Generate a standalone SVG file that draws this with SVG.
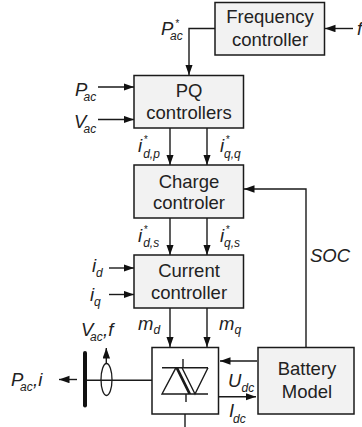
<svg xmlns="http://www.w3.org/2000/svg" width="362" height="427" viewBox="0 0 362 427">
<style>
.b{fill:#f2f2f2;stroke:#1a1a1a;stroke-width:1.5}
.l{fill:none;stroke:#1a1a1a;stroke-width:1.4}
.t{font:18.5px "Liberation Sans",Arial,sans-serif;fill:#222;text-anchor:middle}
.v{font:italic 18.5px "Liberation Sans",Arial,sans-serif;fill:#222}
.s{font-size:12px}
.u{font-size:10px}
.k{letter-spacing:-3.500px}
.n{letter-spacing:-1.500px}
</style>
<defs><marker id="a" markerUnits="userSpaceOnUse" markerWidth="11" markerHeight="8" refX="10.5" refY="3.75" orient="auto"><path d="M0 0L10.500 3.750L0 7.500Z" fill="#111"/></marker></defs>
<g id="connectors">
<path class="l" d="M215 28.500H189V75" marker-end="url(#a)"/>
<path class="l" d="M353 28.500H325" marker-end="url(#a)"/>
<path class="l" d="M98 87H134" marker-end="url(#a)"/>
<path class="l" d="M98 119.500H134" marker-end="url(#a)"/>
<path class="l" d="M170 128V165" marker-end="url(#a)"/>
<path class="l" d="M207 128V165" marker-end="url(#a)"/>
<path class="l" d="M170 218V255" marker-end="url(#a)"/>
<path class="l" d="M207 218V255" marker-end="url(#a)"/>
<path class="l" d="M109 268H134" marker-end="url(#a)"/>
<path class="l" d="M109 294.500H134" marker-end="url(#a)"/>
<path class="l" d="M170 308V347" marker-end="url(#a)"/>
<path class="l" d="M207 308V347" marker-end="url(#a)"/>
<path class="l" d="M306 347V189H244" marker-end="url(#a)"/>
<path class="l" d="M257 361H220" marker-end="url(#a)"/>
<path class="l" d="M219 396.700H256" marker-end="url(#a)"/>
<path class="l" d="M85 380.300H152"/>
<path class="l" d="M185 414V427"/>
<path class="l" d="M77 379.500H59" marker-end="url(#a)"/>
<path class="l" d="M106.300 363V348" marker-end="url(#a)"/>
</g>
<g id="frequency"><rect class="b" x="215" y="2.500" width="109.500" height="52.500"/><text class="t" x="270" y="23">Frequency</text><text class="t" x="270" y="46">controller</text></g>
<g id="pq"><rect class="b" x="134" y="75.500" width="109.500" height="52.500"/><text class="t" x="189" y="97">PQ</text><text class="t" x="189" y="118.500">controllers</text></g>
<g id="charge"><rect class="b" x="134" y="165" width="109.500" height="53"/><text class="t" x="189" y="187.500">Charge</text><text class="t" x="189" y="209">controler</text></g>
<g id="current"><rect class="b" x="134" y="255" width="109.500" height="53"/><text class="t" x="189" y="277">Current</text><text class="t" x="189" y="298.500">controller</text></g>
<g id="converter"><rect x="152" y="347.500" width="66.500" height="66.500" fill="#fff" stroke="#1a1a1a" stroke-width="1.500"/>
<path class="l" d="M162 367.700H208M162 394H208M183 359V367.700M186 394V402M176 367.700L162 394H189L176 367.700M182 367.700L195 394L208 367.700M177.500 367.700L190.500 394"/></g>
<g id="battery"><rect class="b" x="258" y="347.500" width="96" height="66.500"/><text class="t" x="307" y="375">Battery</text><text class="t" x="307" y="398">Model</text></g>
<g id="bus"><path d="M85 353V405.500" stroke="#111" stroke-width="4" stroke-linecap="round"/><ellipse cx="106.500" cy="379.500" rx="5.500" ry="16" fill="none" stroke="#1a1a1a" stroke-width="1.300"/></g>
<g id="labels">
<text class="v" x="161" y="35"><tspan class="k">P</tspan><tspan class="s" x="170" y="40">ac</tspan><tspan class="u" x="175" y="27">*</tspan></text>
<text class="v" x="357" y="35">f</text>
<text class="v" x="75" y="96"><tspan class="k">P</tspan><tspan class="s" x="83.500" y="101">ac</tspan></text>
<text class="v" x="74" y="128"><tspan class="k">V</tspan><tspan class="s" x="83.500" y="133">ac</tspan></text>
<text class="v" x="138" y="152">i<tspan class="s" x="143.200" y="158">d,p</tspan><tspan class="u" x="143.500" y="143">*</tspan></text>
<text class="v" x="220" y="152"><tspan class="n">i</tspan><tspan class="s" x="224" y="158">q,q</tspan><tspan class="u" x="225.500" y="143">*</tspan></text>
<text class="v" x="138" y="242">i<tspan class="s" x="143.200" y="247">d,s</tspan><tspan class="u" x="143.500" y="233">*</tspan></text>
<text class="v" x="220" y="242"><tspan class="n">i</tspan><tspan class="s" x="224" y="247">q,s</tspan><tspan class="u" x="225.500" y="233">*</tspan></text>
<text class="v" x="92" y="272"><tspan class="n">i</tspan><tspan class="s" x="96" y="277">d</tspan></text>
<text class="v" x="90" y="301"><tspan class="n">i</tspan><tspan class="s" x="94" y="306">q</tspan></text>
<text class="v" x="138" y="330">m<tspan class="s" x="153.500" y="334">d</tspan></text>
<text class="v" x="219" y="330">m<tspan class="s" x="234.500" y="334">q</tspan></text>
<text class="v" x="81" y="336"><tspan class="k">V</tspan><tspan class="s" x="90" y="341">ac</tspan><tspan x="103" y="336">,f</tspan></text>
<text class="v" x="11" y="386"><tspan class="k">P</tspan><tspan class="s" x="20" y="391">ac</tspan><tspan x="33" y="386">,i</tspan></text>
<text class="v" x="228" y="387">U<tspan class="s" x="241.500" y="392">dc</tspan></text>
<text class="v" x="229" y="417"><tspan class="n">I</tspan><tspan class="s" x="233" y="423">dc</tspan></text>
<text class="v" x="310" y="262">SOC</text>
</g>
</svg>
